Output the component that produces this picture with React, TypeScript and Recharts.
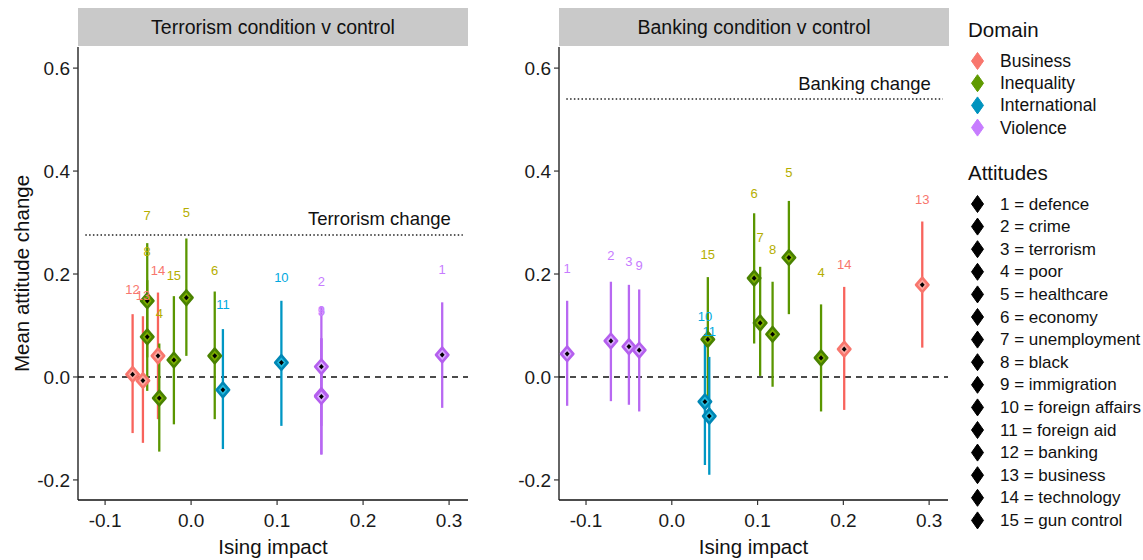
import React from 'react';
import { ScatterChart, Scatter, XAxis, YAxis, ErrorBar, ReferenceLine } from 'recharts';

// ---------- categories ----------
const DOMAINS = ['Business', 'Inequality', 'International', 'Violence'];
const ATTITUDES = [
  'defence', 'crime', 'terrorism', 'poor', 'healthcare', 'economy', 'unemployment',
  'black', 'immigration', 'foreign affairs', 'foreign aid', 'banking', 'business',
  'technology', 'gun control',
];
// domain index of each attitude (1..15)
const ATTITUDE_DOMAIN = [3, 3, 3, 1, 1, 1, 1, 1, 3, 2, 2, 0, 0, 0, 1];

// ---------- Terrorism condition v control ----------
const T_IDS = [1, 2, 3, 4, 5, 6, 7, 8, 9, 10, 11, 12, 13, 14, 15];
const T_X = [0.292, 0.1515, 0.1515, -0.037, -0.0055, 0.0275, -0.051, -0.051, 0.1515, 0.105, 0.037, -0.068, -0.056, -0.0385, -0.02];
const T_MEAN = [0.043, 0.02, -0.036, -0.041, 0.154, 0.041, 0.148, 0.078, -0.038, 0.028, -0.025, 0.005, -0.007, 0.041, 0.033];
const T_LOW = [-0.06, -0.095, -0.15, -0.145, 0.041, -0.082, 0.038, -0.027, -0.151, -0.095, -0.14, -0.109, -0.128, -0.082, -0.092];
const T_HIGH = [0.145, 0.137, 0.075, 0.065, 0.269, 0.166, 0.26, 0.188, 0.075, 0.148, 0.093, 0.122, 0.118, 0.164, 0.157];
const T_CHANGE = 0.276;

// ---------- Banking condition v control ----------
const B_IDS = [1, 2, 3, 4, 5, 6, 7, 8, 9, 10, 11, 13, 14, 15];
const B_X = [-0.122, -0.071, -0.05, 0.174, 0.1365, 0.096, 0.103, 0.1175, -0.038, 0.0386, 0.0437, 0.292, 0.201, 0.042];
const B_MEAN = [0.045, 0.07, 0.059, 0.037, 0.232, 0.192, 0.105, 0.083, 0.052, -0.048, -0.076, 0.179, 0.054, 0.073];
const B_LOW = [-0.056, -0.047, -0.054, -0.067, 0.122, 0.065, 0.002, -0.019, -0.067, -0.171, -0.19, 0.057, -0.064, -0.045];
const B_HIGH = [0.148, 0.185, 0.179, 0.141, 0.342, 0.318, 0.214, 0.185, 0.17, 0.072, 0.039, 0.302, 0.175, 0.194];
const B_CHANGE = 0.54;

// ---------- axes ----------
const X_TICKS = [-0.1, 0, 0.1, 0.2, 0.3];
const Y_TICKS = [-0.2, 0, 0.2, 0.4, 0.6];
const X_DOMAIN: [number, number] = [-0.1315, 0.322];
const Y_DOMAIN: [number, number] = [-0.239, 0.641];
const LABEL_NUDGE = 0.165;
const CHANGE_SEG_X: [number, number] = [-0.123, 0.316];
const CHANGE_TEXT_X = 0.302;
const CHANGE_TEXT_NUDGE = 0.031;

// ---------- styles ----------
const FONT = '"Liberation Sans", Arial, Helvetica, sans-serif';
const LINE_COLORS = ['#F8635C', '#5A9600', '#0097C4', '#B868F2'];
const RING_COLORS = ['#F8766D', '#4A8200', '#0087B5', '#B45FEE'];
const FILL_COLORS = ['#FCA8A0', '#7CAE00', '#22B9DC', '#D8A8FF'];
const LABEL_COLORS = ['#F8766D', '#B5AE00', '#00A9E0', '#C77CFF'];
const KEY_COLORS = ['#F8766D', '#5F9A00', '#0093BE', '#C77CFF'];

const fmt = (v: number) => v.toFixed(1);

function Diamond(props: any) {
  const { cx, cy, ring, fill } = props;
  if (cx == null || cy == null) return <g />;
  const w = 6.2, h = 7.2;
  return (
    <g>
      <path
        d={`M${cx},${cy - h} L${cx + w},${cy} L${cx},${cy + h} L${cx - w},${cy} Z`}
        fill={fill}
        stroke={ring}
        strokeWidth={2.6}
        strokeLinejoin="round"
      />
      <path
        d={`M${cx},${cy - 2.6} L${cx + 2.4},${cy} L${cx},${cy + 2.6} L${cx - 2.4},${cy} Z`}
        fill="#000"
      />
    </g>
  );
}

function LabelText(props: any) {
  const { cx, cy, payload } = props;
  if (cx == null || cy == null) return <g />;
  return (
    <text x={cx} y={cy} textAnchor="middle" dominantBaseline="central" fontSize={13} fontFamily={FONT} fill={payload.color}>
      {payload.text}
    </text>
  );
}

function ChangeText(props: any) {
  const { cx, cy, payload } = props;
  if (cx == null || cy == null) return <g />;
  return (
    <text x={cx} y={cy} textAnchor="end" dominantBaseline="central" fontSize={18.5} fontFamily={FONT} fill="#111">
      {payload.text}
    </text>
  );
}

const Empty = () => <g />;

function Panel(props: {
  title: string; ids: number[]; xs: number[]; means: number[]; lows: number[]; highs: number[];
  change: number; changeText: string; left: number; yTitle?: string;
}) {
  const { title, ids, xs, means, lows, highs, change, changeText, left, yTitle } = props;
  const rows = ids.map((id, i) => ({
    id,
    d: ATTITUDE_DOMAIN[id - 1],
    x: xs[i],
    y: means[i],
    err: [means[i] - lows[i], highs[i] - means[i]],
  }));
  const labelRows = rows.map((r) => ({ x: r.x, y: r.y + LABEL_NUDGE, text: String(r.id), color: LABEL_COLORS[r.d] }));
  const textRow = [{ x: CHANGE_TEXT_X, y: change + CHANGE_TEXT_NUDGE, text: changeText }];
  const yAxisWidth = left === 0 ? 78 : 79;
  return (
    <div style={{ position: 'absolute', left, top: 0, width: 480, height: 560 }}>
      <div
        style={{
          position: 'absolute', left: yAxisWidth, top: 8, width: 390, height: 38, background: '#C9C9C9',
          display: 'flex', alignItems: 'center', justifyContent: 'center', fontSize: 19.5, fontFamily: FONT, color: '#111',
        }}
      >
        {title}
      </div>
      <ScatterChart width={480} height={560} margin={{ top: 47, right: 12, bottom: 0, left: 0 }}>
        <XAxis
          type="number"
          dataKey="x"
          domain={X_DOMAIN}
          ticks={X_TICKS}
          allowDataOverflow
          tickFormatter={fmt}
          height={60}
          tickSize={5}
          tickMargin={9}
          axisLine={{ stroke: '#111', strokeWidth: 1.3 }}
          tickLine={{ stroke: '#333', strokeWidth: 1.2 }}
          tick={{ fill: '#1a1a1a', fontSize: 19, fontFamily: FONT }}
          label={{ value: 'Ising impact', position: 'insideBottom', offset: 6, fill: '#111', fontSize: 20.5, fontFamily: FONT }}
        />
        <YAxis
          type="number"
          dataKey="y"
          domain={Y_DOMAIN}
          ticks={Y_TICKS}
          allowDataOverflow
          tickFormatter={fmt}
          width={yAxisWidth}
          tickSize={5}
          tickMargin={3}
          axisLine={{ stroke: '#111', strokeWidth: 1.3 }}
          tickLine={{ stroke: '#333', strokeWidth: 1.2 }}
          tick={{ fill: '#1a1a1a', fontSize: 19, fontFamily: FONT }}
          label={
            yTitle
              ? { value: yTitle, angle: -90, position: 'insideLeft', offset: 22, fill: '#111', fontSize: 20.5, fontFamily: FONT, style: { textAnchor: 'middle' } }
              : undefined
          }
        />
        <ReferenceLine y={0} stroke="#111" strokeWidth={1.4} strokeDasharray="6 5" ifOverflow="extendDomain" />
        <ReferenceLine
          segment={[{ x: CHANGE_SEG_X[0], y: change }, { x: CHANGE_SEG_X[1], y: change }]}
          stroke="#222"
          strokeWidth={1.5}
          strokeDasharray="1.5 2.3"
        />
        {DOMAINS.map((dn, di) => (
          <Scatter key={'e' + dn} data={rows.filter((r) => r.d === di)} shape={Empty} isAnimationActive={false}>
            <ErrorBar dataKey="err" direction="y" width={0} stroke={LINE_COLORS[di]} strokeWidth={2.3} />
          </Scatter>
        ))}
        {DOMAINS.map((dn, di) => (
          <Scatter
            key={'p' + dn}
            data={rows.filter((r) => r.d === di)}
            isAnimationActive={false}
            shape={(p: any) => <Diamond {...p} ring={RING_COLORS[di]} fill={FILL_COLORS[di]} />}
          />
        ))}
        <Scatter data={labelRows} isAnimationActive={false} shape={LabelText} />
        <Scatter data={textRow} isAnimationActive={false} shape={ChangeText} />
      </ScatterChart>
    </div>
  );
}

function KeyDiamond({ x, y, color }: { x: number; y: number; color: string }) {
  const w = 6, h = 8.5;
  return <path d={`M${x},${y - h} L${x + w},${y} L${x},${y + h} L${x - w},${y} Z`} fill={color} stroke={color} strokeWidth={1} strokeLinejoin="round" />;
}

function Legend() {
  const step = 22.6;
  return (
    <svg style={{ position: 'absolute', left: 960, top: 0 }} width={183} height={560}>
      <text x={8} y={29} dominantBaseline="central" fontSize={20.5} fontFamily={FONT} fill="#111">Domain</text>
      {DOMAINS.map((d, i) => (
        <g key={d}>
          <KeyDiamond x={17.5} y={61 + i * 22.2} color={KEY_COLORS[i]} />
          <text x={40} y={61 + i * 22.2} dominantBaseline="central" fontSize={17.5} fontFamily={FONT} fill="#111">{d}</text>
        </g>
      ))}
      <text x={8} y={172} dominantBaseline="central" fontSize={20.5} fontFamily={FONT} fill="#111">Attitudes</text>
      {ATTITUDES.map((a, i) => (
        <g key={a}>
          <KeyDiamond x={17.5} y={204 + i * step} color="#000" />
          <text x={40} y={204 + i * step} dominantBaseline="central" fontSize={17} fontFamily={FONT} fill="#111">
            {`${i + 1} = ${a}`}
          </text>
        </g>
      ))}
    </svg>
  );
}

export default function App() {
  return (
    <div style={{ position: 'fixed', left: 0, top: 0, width: 1143, height: 560, background: '#fff', overflow: 'hidden' }}>
      <Panel
        title="Terrorism condition v control"
        ids={T_IDS} xs={T_X} means={T_MEAN} lows={T_LOW} highs={T_HIGH}
        change={T_CHANGE} changeText="Terrorism change" left={0} yTitle="Mean attitude change"
      />
      <Panel
        title="Banking condition  v control"
        ids={B_IDS} xs={B_X} means={B_MEAN} lows={B_LOW} highs={B_HIGH}
        change={B_CHANGE} changeText="Banking change" left={480}
      />
      <Legend />
    </div>
  );
}
